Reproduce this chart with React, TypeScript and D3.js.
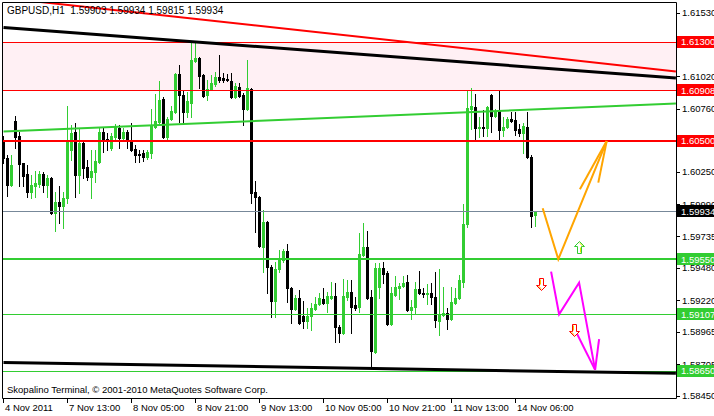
import * as d3 from 'd3';

// GBPUSD H1 bars (bar 0 = 4 Nov 2011, last bar = 14 Nov)
const opens = [
  1.60509, 1.60364, 1.60147, 1.60662, 1.60541, 1.60324, 1.60235, 1.60091, 1.60139, 1.60155,
  1.60235, 1.60147, 1.60203, 1.59922, 1.6001, 1.59978, 1.60043, 1.60428, 1.60573, 1.60227,
  1.60485, 1.60292, 1.60211, 1.60251, 1.60332, 1.60573, 1.60517, 1.60444, 1.60533, 1.60605,
  1.60525, 1.60573, 1.60509, 1.60436, 1.60396, 1.60404, 1.60372, 1.60404, 1.60613, 1.60654,
  1.60839, 1.60533, 1.60678, 1.60734, 1.6104, 1.60871, 1.60734, 1.60806, 1.61144, 1.61168,
  1.61032, 1.60871, 1.60919, 1.60959, 1.61016, 1.61007, 1.60999, 1.60983, 1.60855, 1.60935,
  1.60871, 1.60758, 1.60919, 1.60091, 1.60051, 1.59649, 1.5985, 1.59488, 1.59215, 1.59472,
  1.59544, 1.59617, 1.59319, 1.5915, 1.59239, 1.59094, 1.59054, 1.59094, 1.5915, 1.59191,
  1.59231, 1.59199, 1.59239, 1.59255, 1.59006, 1.58958, 1.59247, 1.59287, 1.59183, 1.59167,
  1.59584, 1.59649, 1.59247, 1.58805, 1.59327, 1.5948, 1.5944, 1.5903, 1.59263, 1.59319,
  1.59335, 1.59368, 1.59142, 1.59167, 1.59311, 1.59279, 1.59271, 1.59279, 1.59247, 1.59054,
  1.59102, 1.59118, 1.5907, 1.59199, 1.59239, 1.59368, 1.59834, 1.60758, 1.60774, 1.60605,
  1.60613, 1.60605, 1.60871, 1.60702, 1.6075, 1.60589, 1.60613, 1.60678, 1.6067, 1.60597,
  1.60565, 1.60613, 1.60372, 1.59903,
];
const highs = [
  1.60541, 1.60388, 1.60388, 1.60702, 1.60573, 1.60324, 1.60308, 1.60227, 1.60259, 1.60259,
  1.60251, 1.60227, 1.60211, 1.60091, 1.60139, 1.60091, 1.60782, 1.6063, 1.60646, 1.60605,
  1.60509, 1.60348, 1.60428, 1.60428, 1.60605, 1.60605, 1.60565, 1.60565, 1.60638, 1.6063,
  1.60605, 1.60589, 1.60646, 1.60469, 1.60428, 1.60428, 1.60428, 1.60758, 1.60879, 1.60983,
  1.60855, 1.60694, 1.60782, 1.61048, 1.61112, 1.60911, 1.60895, 1.61289, 1.61297, 1.61176,
  1.6104, 1.60991, 1.61032, 1.61056, 1.61192, 1.61048, 1.6104, 1.61048, 1.60967, 1.60967,
  1.60887, 1.61152, 1.60927, 1.60179, 1.60059, 1.59946, 1.59858, 1.59504, 1.59528, 1.59625,
  1.59633, 1.59673, 1.59327, 1.59263, 1.59303, 1.59215, 1.59159, 1.59199, 1.59247, 1.59279,
  1.59319, 1.59287, 1.59368, 1.59359, 1.59022, 1.59392, 1.59384, 1.59384, 1.59247, 1.59761,
  1.59842, 1.59777, 1.59303, 1.5952, 1.5952, 1.59528, 1.59456, 1.59327, 1.59416, 1.59359,
  1.59416, 1.59424, 1.59223, 1.59368, 1.59456, 1.59319, 1.59351, 1.59359, 1.59448, 1.59472,
  1.59327, 1.59159, 1.59327, 1.59319, 1.59424, 1.59994, 1.60911, 1.60927, 1.60879, 1.60694,
  1.6075, 1.60782, 1.60879, 1.60758, 1.60911, 1.60694, 1.60694, 1.60734, 1.60734, 1.60638,
  1.60646, 1.60734, 1.60388, 1.59934,
];
const lows = [
  1.60324, 1.60059, 1.60139, 1.60444, 1.60139, 1.60139, 1.60051, 1.60043, 1.60051, 1.60131,
  1.60091, 1.60051, 1.59914, 1.59777, 1.59842, 1.59802, 1.60002, 1.60348, 1.60051, 1.60083,
  1.60203, 1.60187, 1.60043, 1.60171, 1.60324, 1.60412, 1.60428, 1.60428, 1.60509, 1.60444,
  1.60517, 1.60444, 1.6042, 1.60332, 1.60332, 1.6034, 1.60356, 1.60364, 1.60605, 1.60646,
  1.60525, 1.60509, 1.6067, 1.60726, 1.60654, 1.60654, 1.60694, 1.60694, 1.61136, 1.60927,
  1.60855, 1.60831, 1.60911, 1.60943, 1.60975, 1.60975, 1.60983, 1.60847, 1.60847, 1.60855,
  1.6063, 1.6075, 1.60002, 1.59769, 1.59649, 1.59448, 1.59279, 1.59086, 1.59086, 1.59448,
  1.59528, 1.59207, 1.59038, 1.59142, 1.5903, 1.58998, 1.58998, 1.58982, 1.59142, 1.59183,
  1.59191, 1.59126, 1.59231, 1.58885, 1.58885, 1.5895, 1.59223, 1.58958, 1.59142, 1.59126,
  1.59576, 1.59231, 1.58685, 1.58797, 1.59239, 1.59359, 1.59022, 1.59022, 1.59255, 1.59231,
  1.59327, 1.59134, 1.5907, 1.59118, 1.59271, 1.59247, 1.59191, 1.59191, 1.59006, 1.58942,
  1.59094, 1.5899, 1.59062, 1.59191, 1.59231, 1.59327, 1.5981, 1.60597, 1.60517, 1.60533,
  1.60541, 1.60541, 1.60573, 1.60694, 1.60517, 1.60541, 1.60605, 1.60654, 1.60549, 1.60541,
  1.60404, 1.60364, 1.5981, 1.59815,
];
const closes = [
  1.60364, 1.60147, 1.60308, 1.60533, 1.60316, 1.60219, 1.60091, 1.60147, 1.60163, 1.60235,
  1.60147, 1.60203, 1.59922, 1.6001, 1.59978, 1.60043, 1.60509, 1.60565, 1.60227, 1.60485,
  1.60284, 1.60211, 1.60259, 1.6034, 1.60573, 1.60509, 1.60509, 1.60541, 1.60613, 1.60525,
  1.60573, 1.60509, 1.60428, 1.60388, 1.60388, 1.60372, 1.60412, 1.6063, 1.60662, 1.60831,
  1.60533, 1.60678, 1.60742, 1.6104, 1.60871, 1.60734, 1.60822, 1.61152, 1.61168, 1.61024,
  1.60863, 1.60919, 1.60967, 1.61016, 1.60991, 1.60991, 1.60991, 1.60855, 1.60943, 1.60863,
  1.60758, 1.60927, 1.60083, 1.60051, 1.59657, 1.5985, 1.59488, 1.59215, 1.59472, 1.5956,
  1.59617, 1.59319, 1.5915, 1.59239, 1.59038, 1.59054, 1.59094, 1.59159, 1.59191, 1.59239,
  1.59199, 1.59255, 1.59255, 1.59006, 1.58958, 1.59255, 1.59287, 1.59167, 1.59159, 1.59592,
  1.59649, 1.59239, 1.58813, 1.5948, 1.5948, 1.59432, 1.5903, 1.59279, 1.59327, 1.59335,
  1.59359, 1.59142, 1.59167, 1.59311, 1.59279, 1.59271, 1.59279, 1.59247, 1.59062, 1.59102,
  1.59118, 1.5907, 1.59207, 1.59239, 1.59384, 1.59834, 1.60766, 1.60782, 1.60605, 1.60613,
  1.60605, 1.60774, 1.60702, 1.60734, 1.60589, 1.60613, 1.60678, 1.60662, 1.60589, 1.60565,
  1.60622, 1.60372, 1.59898, 1.59934,
];

const timeLabels = ['4 Nov 2011', '7 Nov 13:00', '8 Nov 05:00', '8 Nov 21:00', '9 Nov 13:00',
  '10 Nov 05:00', '10 Nov 21:00', '11 Nov 13:00', '14 Nov 06:00'];
const timeLabelBars = [0, 16, 32, 48, 64, 80, 96, 112, 128];
const priceTicks = [1.6153, 1.61275, 1.6102, 1.6076, 1.605, 1.6025, 1.5999, 1.59735, 1.5948,
  1.5922, 1.58965, 1.58705, 1.5845];

// horizontal levels
const zoneTop = 1.613;
const zoneBottom = 1.60908;
const resistance = 1.605;
const support = 1.5955;
const thinSupports = [1.59107, 1.5865];
const bid = 1.59934;

// trend lines as [bar, price]
const upperTrend = [[0, 1.61413], [168.1, 1.61007]];
const redTrend = [[0, 1.61651], [168.1, 1.6106]];
const greenTrend = [[0, 1.60577], [168.1, 1.60802]];
const lowerTrend = [[0, 1.5872], [168.1, 1.58632]];

// projected paths
const orangePath = [[134.8, 1.5996], [138.7, 1.5955], [150.8, 1.605]];
const orangeHeads = [[[144.1, 1.60113], [150.8, 1.605]], [[148.7, 1.60166], [150.8, 1.605]]];
const magentaPath = [[136.9, 1.5945], [138.9, 1.59107], [143.9, 1.59362], [147.9, 1.5866]];
const magentaHeads = [[[142.9, 1.58981], [147.9, 1.5866]], [[148.9, 1.58907], [147.9, 1.5866]]];
const upArrows = [[143.9, 1.59646]];
const downArrows = [[134.3, 1.59351], [142.6, 1.58983]];

const GREEN = '#32CD32';
const FONT = '"Liberation Sans", Arial, sans-serif';

const App = () => {
  const W = 714;
  const H = 416;
  const left = 3;
  const right = 676;
  const top = 2;
  const bottom = 398;

  const x = d3.scaleLinear().domain([0, 1]).range([3.5, 7.5]);
  const y = d3.scaleLinear().domain([1.5845, 1.6153]).range([396, 13]);
  const fmt = d3.format('.5f');
  const ry = (p: number) => Math.round(y(p)) + 0.5;

  const line = d3
    .line<number[]>()
    .x((d) => x(d[0]))
    .y((d) => y(d[1]));

  // hollow wingdings-like arrow, pointing up
  const arrow = 'M0,-6 L5,-1 L2,-1 L2,6 L-2,6 L-2,-1 L-5,-1 Z';
  const inner = 'M0,-4.5 L3.2,-1.5 M1,0 L1,5';

  const marks = [
    { p: zoneTop, bg: '#ff0000' },
    { p: zoneBottom, bg: '#ff0000' },
    { p: resistance, bg: '#ff0000' },
    { p: bid, bg: '#000000' },
    { p: support, bg: GREEN },
    ...thinSupports.map((p) => ({ p, bg: GREEN })),
  ];

  return (
    <>
      <style>{'body{margin:0}svg{display:block}'}</style>
      <svg width={W} height={H} style={{ fontFamily: FONT }}>
        <defs>
          <clipPath id="plot">
            <rect x={left} y={top + 1} width={right - left} height={bottom - top - 1} />
          </clipPath>
        </defs>
        <rect width={W} height={H} fill="#fff" />

        <g clipPath="url(#plot)">
          {/* zone */}
          <rect x={left} y={ry(zoneTop)} width={right - left} height={ry(zoneBottom) - ry(zoneTop)} fill="#fff0f4" />

          {/* candles */}
          {opens.map((o, i) => {
            const c = closes[i];
            const bull = c > o;
            const col = bull ? GREEN : '#000';
            const t = Math.round(y(Math.max(o, c)));
            const b = Math.round(y(Math.min(o, c)));
            const ht = Math.round(y(highs[i]));
            const lw = Math.round(y(lows[i]));
            return (
              <g key={i} fill={col}>
                <rect x={x(i) - 0.5} y={ht} width={1} height={lw - ht + 1} />
                <rect x={x(i) - 1.5} y={t} width={3} height={Math.max(1, b - t + 1)} />
              </g>
            );
          })}

          {/* horizontal levels */}
          <line x1={left} x2={right} y1={ry(zoneTop)} y2={ry(zoneTop)} stroke="#ff0000" />
          <line x1={left} x2={right} y1={ry(zoneBottom)} y2={ry(zoneBottom)} stroke="#ff0000" />
          <line x1={left} x2={right} y1={Math.round(y(resistance))} y2={Math.round(y(resistance))} stroke="#ff0000" strokeWidth={2} />
          <line x1={left} x2={right} y1={ry(bid)} y2={ry(bid)} stroke="#778899" />
          <line x1={left} x2={right} y1={Math.round(y(support))} y2={Math.round(y(support))} stroke={GREEN} strokeWidth={2} />
          {thinSupports.map((p) => (
            <line key={p} x1={left} x2={right} y1={ry(p)} y2={ry(p)} stroke={GREEN} />
          ))}

          {/* trend lines */}
          <path d={line(redTrend) as string} stroke="#ff0000" strokeWidth={2} fill="none" />
          <path d={line(upperTrend) as string} stroke="#000" strokeWidth={3} fill="none" />
          <path d={line(greenTrend) as string} stroke={GREEN} strokeWidth={2} fill="none" />
          <path d={line(lowerTrend) as string} stroke="#000" strokeWidth={3} fill="none" />

          {/* projections */}
          <path d={line(orangePath) as string} stroke="#ffa500" strokeWidth={2} fill="none" />
          {orangeHeads.map((h, k) => (
            <path key={k} d={line(h) as string} stroke="#ffa500" strokeWidth={2} fill="none" />
          ))}
          <path d={line(magentaPath) as string} stroke="#ff00ff" strokeWidth={2} fill="none" />
          {magentaHeads.map((h, k) => (
            <path key={k} d={line(h) as string} stroke="#ff00ff" strokeWidth={2} fill="none" />
          ))}

          {upArrows.map((a, k) => (
            <g key={k} transform={`translate(${Math.round(x(a[0])) + 0.5},${Math.round(y(a[1])) + 0.5})`}>
              <path d={arrow} fill="#fff" stroke={GREEN} />
              <path d={inner} fill="none" stroke="#e6e600" />
            </g>
          ))}
          {downArrows.map((a, k) => (
            <g key={k} transform={`translate(${Math.round(x(a[0])) + 0.5},${Math.round(y(a[1])) + 0.5}) rotate(180)`}>
              <path d={arrow} fill="#fff" stroke="#ff0000" />
              <path d={inner} fill="none" stroke="#ffc000" />
            </g>
          ))}
        </g>

        {/* frame */}
        <path d={`M${left - 0.5},${bottom + 0.5} V${top + 0.5} H${right + 0.5} V${bottom + 0.5} Z`} fill="none" stroke="#000" />

        {/* price axis */}
        {priceTicks.map((p) => (
          <g key={p}>
            <line x1={right + 1} x2={right + 4} y1={ry(p)} y2={ry(p)} stroke="#000" />
            <text x={right + 6} y={y(p)} dy="0.35em" fontSize={9.5} fill="#000">
              {fmt(p)}
            </text>
          </g>
        ))}
        {marks.map((m) => (
          <g key={m.p}>
            <rect x={right + 1} y={Math.round(y(m.p)) - 6} width={W - right} height={12} fill={m.bg} />
            <text x={right + 5} y={y(m.p)} dy="0.35em" fontSize={9.5} fill="#fff">
              {fmt(m.p)}
            </text>
          </g>
        ))}

        {/* time axis */}
        {timeLabelBars.map((b, k) => (
          <g key={b}>
            <line x1={Math.round(x(b)) - 0.5} x2={Math.round(x(b)) - 0.5} y1={bottom + 1} y2={bottom + 5} stroke="#000" />
            <text x={Math.round(x(b)) + 1} y={411} fontSize={9.5} fill="#000">
              {timeLabels[k]}
            </text>
          </g>
        ))}

        <text x={7} y={14} fontSize={10} fill="#000" style={{ whiteSpace: 'pre' }}>
          {`GBPUSD,H1  ${fmt(opens[133])} ${fmt(highs[133])} ${fmt(lows[133])} ${fmt(closes[133])}`}
        </text>
        <text x={7} y={393} fontSize={9.5} fill="#000">
          Skopalino Terminal, © 2001-2010 MetaQuotes Software Corp.
        </text>
      </svg>
    </>
  );
};

export default App;
